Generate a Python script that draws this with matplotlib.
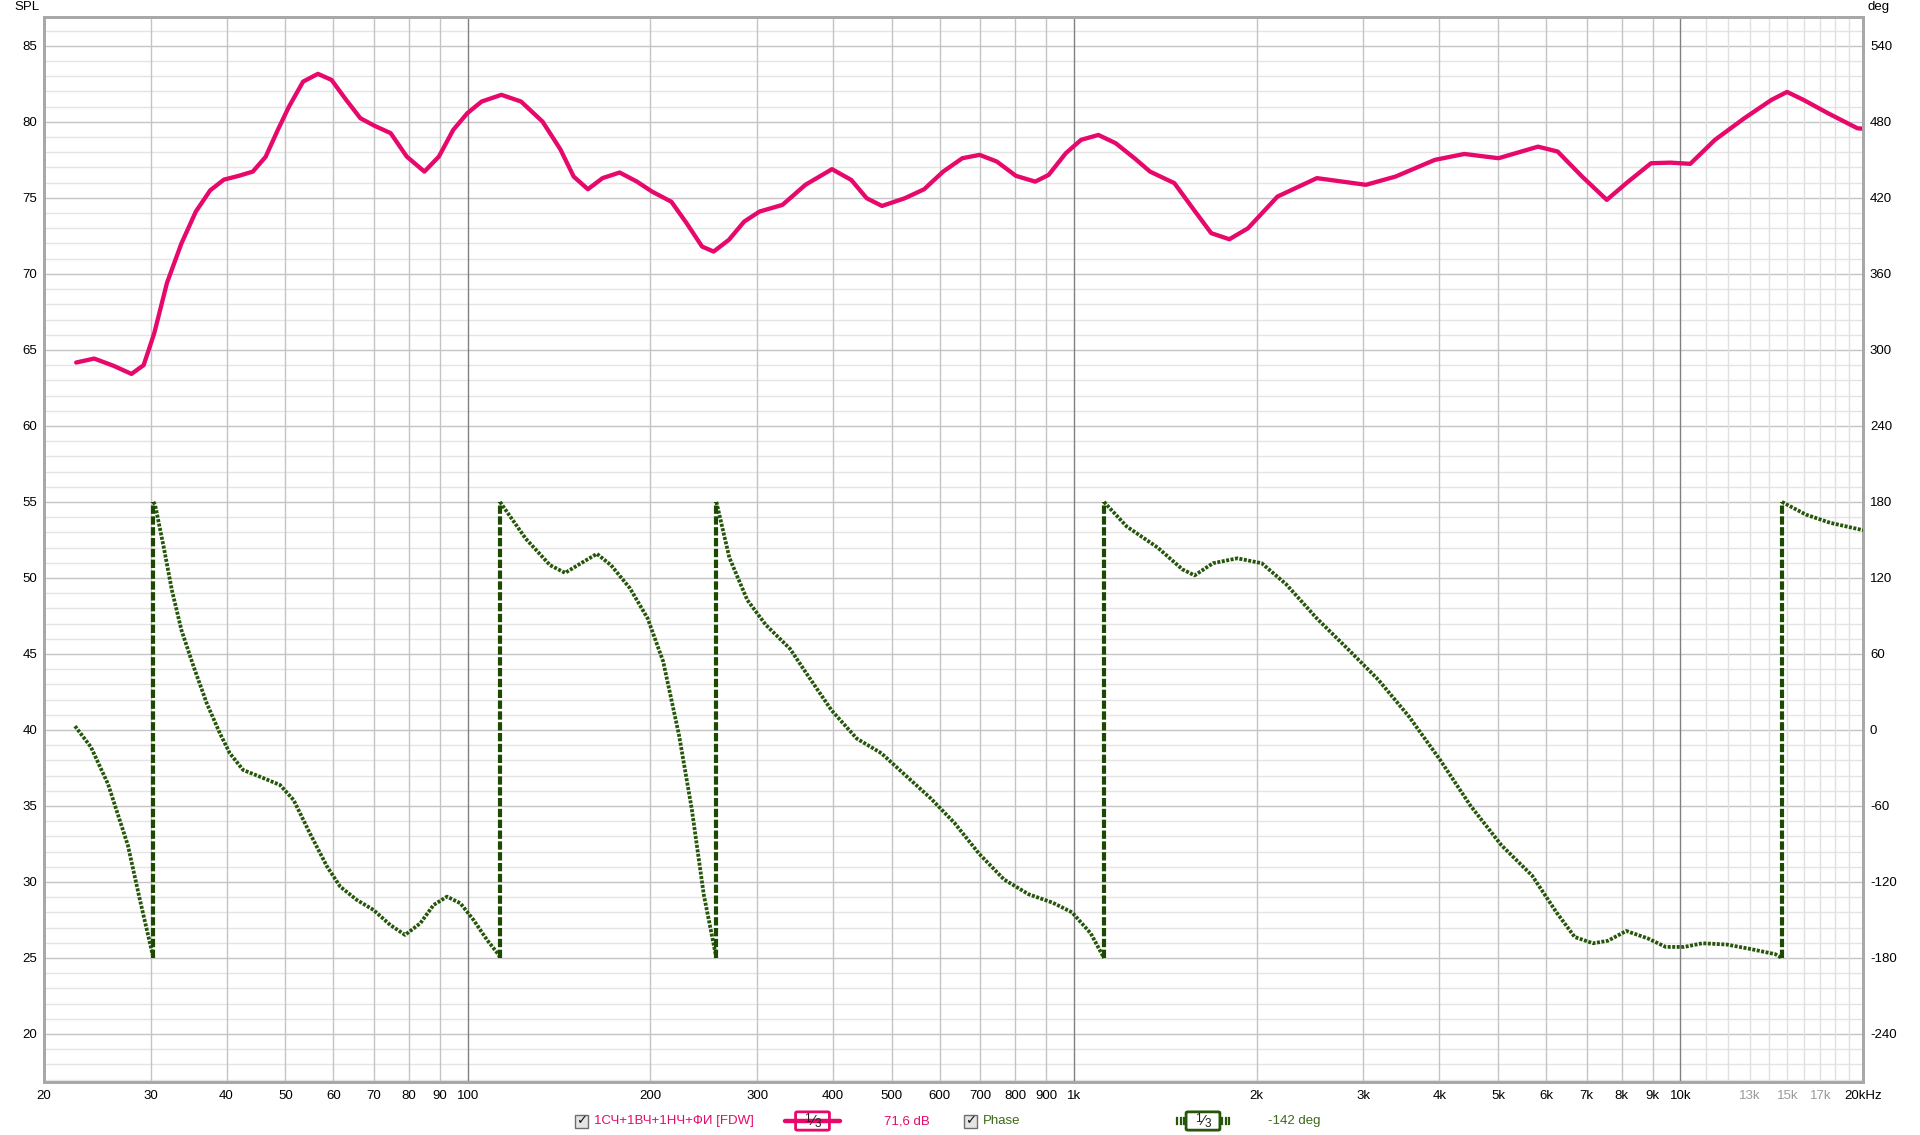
import numpy as np
import matplotlib
matplotlib.use("Agg")
import matplotlib.pyplot as plt
from matplotlib.patches import Rectangle, FancyBboxPatch

# ─────────────────────────────────────────────
# DATA
# ─────────────────────────────────────────────
spl_freq = [22.6, 24.2, 26.06, 27.88, 29.2, 30.4, 31.9, 33.7, 35.6, 37.6, 39.6, 41.9,
            44.2, 46.4, 48.6, 50.7, 53.5, 56.6, 59.6, 63.0, 66.5, 70.2, 74.6, 79.3,
            84.8, 89.6, 94.6, 99.8, 105.4, 113.6, 122.4, 132.8, 142.1, 149.5, 157.8,
            166.8, 178, 190.1, 201.4, 216.6, 229.6, 243.4, 254.3, 269.5, 285.6, 302.7,
            330.3, 360.4, 398.7, 429, 454.8, 482, 525.9, 565.7, 608.1, 654.1, 698.4,
            745.6, 801.7, 862.5, 907.6, 968.9, 1026.8, 1096.4, 1170.6, 1258.3, 1334.1,
            1463.2, 1576, 1683, 1803, 1935, 2165, 2514, 3028, 3387, 3934, 4400, 5012,
            5821, 6272, 6885, 7559, 8143, 8941, 9630, 10380, 11400, 12745, 14130, 14990,
            15950, 17510, 19580, 20000]
spl_db = [64.17, 64.43, 63.95, 63.42, 64.0, 66.1, 69.4, 72.0, 74.1, 75.5, 76.2, 76.45,
          76.73, 77.7, 79.47, 81.0, 82.65, 83.16, 82.76, 81.45, 80.24, 79.74, 79.26, 77.72,
          76.73, 77.72, 79.47, 80.57, 81.34, 81.78, 81.34, 80.02, 78.2, 76.4, 75.57,
          76.3, 76.67, 76.07, 75.41, 74.75, 73.33, 71.8, 71.47, 72.24, 73.44, 74.1,
          74.54, 75.86, 76.89, 76.18, 74.98, 74.47, 74.98, 75.57, 76.73, 77.61, 77.83,
          77.39, 76.45, 76.07, 76.51, 77.94, 78.82, 79.14, 78.6, 77.6, 76.73,
          75.97, 74.21, 72.68, 72.28, 73.0, 75.09, 76.3, 75.86, 76.4, 77.5, 77.89, 77.61,
          78.37, 78.05, 76.4, 74.87, 75.97, 77.28, 77.32, 77.24, 78.82, 80.24, 81.45, 81.97,
          81.45, 80.57, 79.58, 79.55]

phase_freq = [22.5, 23.9, 25.5, 27.5, 28.8, 30.3,
              30.3, 30.5, 31.5, 32.5, 33.7, 35.3, 37.1, 39.0, 40.5, 42.6, 45.4, 49.0, 51.6,
              54.9, 58.6, 61.6, 65.6, 69.9, 74.5, 78.8, 83.5, 87.8, 92.4, 97.2, 102.2,
              107.6, 112.5, 113.0,
              113.0, 124.6, 136.7, 144.7, 153.7, 163.3, 172.3, 185, 198, 210, 223, 234, 245, 257,
              257, 270, 289, 310, 340, 362, 398, 438, 481, 527, 580, 635, 697, 766, 841, 922,
              992, 1065, 1120,
              1120, 1221, 1373, 1508, 1580, 1694, 1859, 2039, 2237, 2514, 2826, 3173, 3565,
              4008, 4508, 5066, 5693, 6244, 6693, 7173, 7594, 8140, 8826, 9456, 10140, 10870,
              11920, 13070, 14330, 14700,
              14700, 16100, 17660, 20000]
phase_deg = [3, -13.5, -42.6, -91, -134.5, -180,
             180, 177.6, 144.7, 110.5, 78.9, 50, 21.1, -2.6, -18.4, -31.6, -36.9, -43.4, -55.3,
             -81.6, -107.9, -123.7, -134.2, -142.1, -154, -161.8, -152.6, -138.2, -131.6,
             -136.8, -150, -165.8, -177.6, -180,
             180, 151, 130, 124, 131.6, 139, 130, 112, 88, 54, -4, -62, -130, -180,
             180, 136, 102.6, 83, 64, 44.5, 15.5, -6.8, -18.4, -35.8, -54, -73.5, -97.7, -118,
             -129.7, -136.4, -144, -160.6, -180,
             180, 160.6, 144, 126.8, 122, 131.6, 135.5, 131.6, 115, 88, 64, 39.7, 10.7,
             -23.2, -60, -91, -115, -144, -163.5, -168.4, -166.4, -158.7, -164.5, -171.3,
             -171.3, -168.4, -169.4, -173, -177, -180,
             180, 170, 163.5, 157.7]

x_ticks = [20, 30, 40, 50, 60, 70, 80, 90, 100, 200, 300, 400, 500, 600, 700, 800, 900,
           1000, 2000, 3000, 4000, 5000, 6000, 7000, 8000, 9000, 10000, 13000, 15000, 17000, 20000]
x_labels = ["20", "30", "40", "50", "60", "70", "80", "90", "100", "200", "300", "400",
            "500", "600", "700", "800", "900", "1k", "2k", "3k", "4k", "5k", "6k", "7k",
            "8k", "9k", "10k", "13k", "15k", "17k", "20kHz"]
spl_ticks = list(range(20, 90, 5))
deg_ticks = list(range(-240, 541, 60))

# ─────────────────────────────────────────────
# STYLE
# ─────────────────────────────────────────────
PINK = "#E6086A"
GREEN = "#25560A"
GREEN_V = "#1B4A00"
GREEN_TXT = "#3A6A14"
plt.rcParams["font.family"] = ["Liberation Sans", "DejaVu Sans"]
FS = 9.5

W, H = 1920, 1135
fig = plt.figure(figsize=(W / 100, H / 100), dpi=100)
L, R, T, B = 44, 1863, 17, 1082
ax = fig.add_axes([L / W, 1 - B / H, (R - L) / W, (B - T) / H])

YMIN, YMAX = 16.84, 86.9
ax.set_xscale("log")
ax.set_xlim(20, 20000)
ax.set_ylim(YMIN, YMAX)

# grid
for v in range(17, 87):
    col = "#C4C4C4" if v % 5 == 0 else "#E4E4E4"
    ax.axhline(v, color=col, lw=1.0, zorder=0)
for dec in [10, 100, 1000]:
    for m in range(2, 10):
        ax.axvline(dec * m, color="#C4C4C4", lw=1.0, zorder=0)
for f in [100, 1000, 10000]:
    ax.axvline(f, color="#808080", lw=1.0, zorder=0.5)
for k in range(11, 20):
    ax.axvline(k * 1000, color="#E0E0E0", lw=1.0, zorder=0)

# SPL curve
ax.plot(spl_freq, spl_db, color=PINK, lw=3.1, solid_capstyle="round",
        solid_joinstyle="round", zorder=3)

# phase on right axis
ax2 = ax.twinx()
ax2.set_ylim((YMIN - 40) * 12, (YMAX - 40) * 12)
pf = np.array(phase_freq)
pd_ = np.array(phase_deg)
breaks = np.where(np.abs(np.diff(pd_)) > 180)[0]
starts = [0] + list(breaks + 1)
ends = list(breaks + 1) + [len(pf)]
for s, e in zip(starts, ends):
    ax2.plot(pf[s:e], pd_[s:e], color=GREEN, lw=2.7, linestyle=(0, (0.8, 0.4)), zorder=3)
for b in breaks:
    ax2.plot([pf[b], pf[b + 1]], [pd_[b], pd_[b + 1]], color=GREEN_V, lw=3.0,
             linestyle=(0, (2.0, 0.6)), zorder=3)

# ticks
ax.set_yticks(spl_ticks)
ax.set_yticklabels([str(v) for v in spl_ticks], fontsize=FS)
ax2.set_yticks(deg_ticks)
ax2.set_yticklabels([str(v) for v in deg_ticks], fontsize=FS)
ax.set_xticks(x_ticks)
ax.set_xticklabels(x_labels, fontsize=FS)
ax.xaxis.set_minor_locator(matplotlib.ticker.NullLocator())
for lab, f in zip(ax.get_xticklabels(), x_ticks):
    if f in (13000, 15000, 17000):
        lab.set_color("#9A9A9A")
ax.tick_params(axis="both", length=0, pad=6)
ax.tick_params(axis="y", pad=5)
ax2.tick_params(axis="y", length=0, pad=5)
for a in (ax, ax2):
    for sp in a.spines.values():
        sp.set_color("#A8A8A8")
        sp.set_linewidth(2.0)

fig.text(14 / W, 1 - 7 / H, "SPL", fontsize=FS, va="center", ha="left")
fig.text(1868 / W, 1 - 7 / H, "deg", fontsize=FS, va="center", ha="left")

# ─────────────────────────────────────────────
# LEGEND ROW
# ─────────────────────────────────────────────
ly = 1 - 1121 / H


def checkbox(x):
    fig.patches.append(Rectangle((x / W, ly - 7 / H), 13 / W, 13 / H, transform=fig.transFigure,
                                 facecolor="#E4E4E4", edgecolor="#6E6E6E", lw=1.0))
    fig.text((x + 6.5) / W, ly, "\u2713", fontsize=9.5, ha="center", va="center",
             fontweight="bold", color="#151515", family="DejaVu Sans")


def smooth_box(x0, x1, color, dotted):
    cx = (x0 + x1) / 2
    if dotted:
        for side in (-1, 1):
            for k in range(3):
                xx = cx + side * (19 + k * 3.5)
                fig.add_artist(plt.Line2D([xx / W, xx / W], [ly - 3 / H, ly + 3 / H],
                                          transform=fig.transFigure, color=color, lw=1.6))
    else:
        fig.add_artist(plt.Line2D([x0 / W, x1 / W], [ly, ly], transform=fig.transFigure,
                                  color=color, lw=3.2, solid_capstyle="round"))
    fig.patches.append(FancyBboxPatch(((cx - 15) / W, ly - 8 / H), 30 / W, 16 / H,
                                      boxstyle="round,pad=0.001", transform=fig.transFigure,
                                      facecolor="white", edgecolor=color, lw=2.0))
    fig.text((cx - 5) / W, ly + 2 / H, "1", fontsize=8.5, ha="center", va="center", color="#202020")
    fig.text(cx / W, ly, "\u2044", fontsize=10, ha="center", va="center", color="#202020",
             family="DejaVu Sans")
    fig.text((cx + 5) / W, ly - 3 / H, "3", fontsize=8.5, ha="center", va="center", color="#202020")


checkbox(575)
fig.text(594 / W, ly, "1СЧ+1ВЧ+1НЧ+ФИ [FDW]", fontsize=FS, color=PINK, va="center", ha="left")
smooth_box(785, 840, PINK, False)
fig.text(884 / W, ly, "71,6 dB", fontsize=FS, color=PINK, va="center", ha="left")
checkbox(964)
fig.text(983 / W, ly, "Phase", fontsize=FS, color=GREEN_TXT, va="center", ha="left")
smooth_box(1177, 1229, GREEN, True)
fig.text(1268 / W, ly, "-142 deg", fontsize=FS, color=GREEN_TXT, va="center", ha="left")

fig.savefig("out.png", dpi=100, facecolor="white")
